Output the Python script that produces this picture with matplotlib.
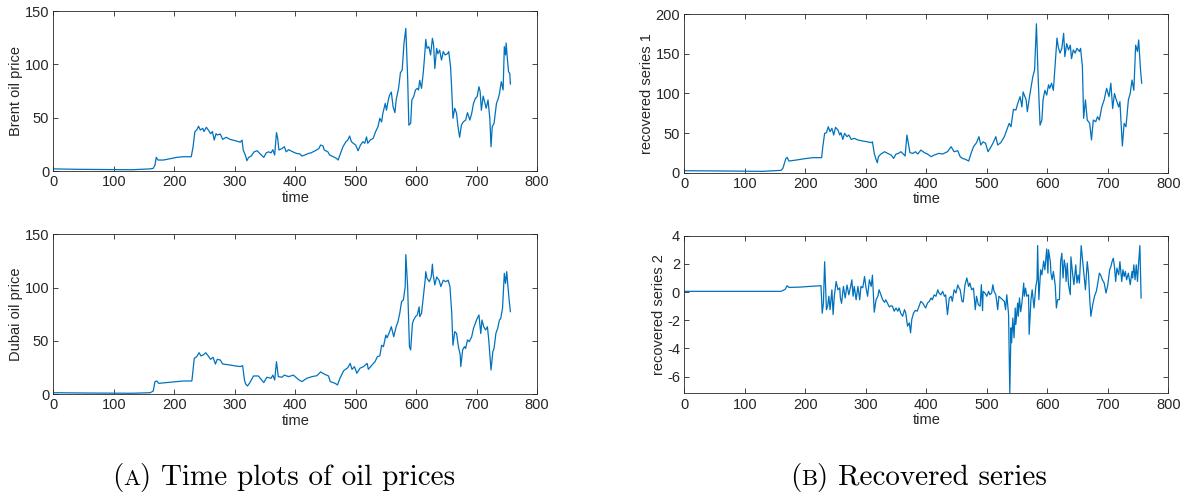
import matplotlib.pyplot as plt

# Brent oil price
brent_t = [0, 40, 80, 130, 160, 165, 168, 170, 173, 182, 193, 204, 215, 228, 231, 234, 237, 240, 243, 247,
           249, 253, 257, 260, 263, 266, 269, 271, 276, 280, 286, 292, 301, 309, 312, 314, 318, 320, 323, 327,
           332, 337, 342, 348, 352, 356, 360, 363, 366, 369, 371, 373, 378, 382, 385, 389, 396, 402, 408, 411,
           416, 422, 426, 433, 439, 442, 446, 448, 454, 457, 463, 468, 471, 475, 479, 484, 487, 490, 493, 496,
           500, 504, 508, 512, 515, 518, 520, 524, 529, 533, 537, 540, 543, 545, 549, 551, 554, 556, 559, 562,
           565, 567, 571, 574, 577, 580, 583, 586, 588, 591, 593, 596, 599, 602, 604, 606, 609, 612, 614, 616,
           618, 621, 624, 627, 629, 631, 634, 636, 639, 642, 645, 648, 652, 654, 657, 659, 661, 664, 667, 669,
           672, 675, 678, 682, 685, 689, 692, 695, 698, 701, 704, 706, 708, 711, 714, 716, 719, 722, 724, 726,
           729, 733, 736, 738, 741, 744, 746, 748, 749, 751, 753, 755, 756]
brent_v = [2.0, 1.6, 1.4, 1.2, 2.0, 2.5, 5.6, 12.8, 10.3, 10.3, 11.6, 12.8, 13.4, 13.4, 22.8, 36.9, 38.4, 42, 38.4, 40,
           37, 41, 37.8, 35, 37, 29, 35, 33.8, 34.7, 29.7, 31.6, 29.7, 28.4, 27, 29, 19.7, 14, 9.7, 12.8, 14,
           18, 19, 16, 12.8, 17, 18, 17, 20, 15, 36, 30.6, 19.7, 21, 22.8, 18, 20, 18, 16.5, 16, 14,
           15, 16.5, 17, 19, 21, 24.4, 23.4, 19.7, 18, 15, 13.4, 11.9, 10.3, 16.5, 22.8, 27.5, 29, 32.8, 27.5, 26,
           24.4, 19, 24.4, 27.5, 26, 32, 26, 29, 30.6, 36.9, 41.6, 49.4, 46, 54, 63.4, 57, 66.6, 71, 74, 60,
           54.7, 66.6, 77.5, 92, 94.7, 119.7, 133.7, 88, 43, 44.7, 66.6, 69.7, 76, 77.5, 76, 85, 77.5, 93, 107, 123.4,
           115, 116.6, 108.8, 124.4, 118, 96, 115, 110, 113.4, 104, 112, 108.8, 110, 112, 97.8, 76, 49.4, 58.8, 54, 43,
           31.6, 43, 46, 47.8, 54.7, 47.8, 54, 63.4, 68, 69.7, 79, 74.4, 57, 70.3, 63.4, 58.8, 66.6, 49.4, 22.8, 41.6,
           44.7, 63.4, 68, 72.8, 83.8, 76, 116.6, 108.8, 120, 105.6, 93, 91.6, 81.6]

# Dubai oil price
dubai_t = [0, 60, 130, 160, 165, 168, 171, 174, 193, 215, 229, 233, 237, 241, 244, 248, 252, 257, 260, 264,
           268, 271, 276, 280, 292, 301, 309, 313, 316, 318, 321, 325, 331, 339, 348, 353, 360, 363, 366, 369,
           372, 378, 382, 389, 397, 405, 411, 419, 428, 436, 442, 448, 455, 458, 466, 470, 474, 480, 487, 491,
           494, 498, 502, 507, 513, 519, 521, 527, 532, 536, 540, 543, 546, 550, 552, 555, 559, 563, 567, 570,
           573, 576, 579, 582, 583, 586, 589, 591, 594, 596, 599, 602, 605, 606, 609, 612, 615, 616, 618, 622,
           625, 627, 628, 631, 634, 638, 641, 645, 649, 653, 656, 659, 661, 664, 667, 670, 673, 674, 677, 680,
           682, 685, 688, 692, 695, 698, 701, 704, 707, 709, 712, 715, 718, 720, 724, 727, 729, 732, 735, 738,
           740, 743, 746, 748, 750, 752, 754, 756]
dubai_v = [1.5, 1.2, 1.0, 1.5, 3, 11.9, 12.5, 10.3, 11.3, 12.5, 12.5, 33.8, 35.3, 39, 36, 37, 39, 35.3, 32.8, 34.7,
           28.4, 32.8, 32.2, 28.4, 27.5, 26.6, 26, 26.9, 13.4, 9.7, 7.8, 11, 17.2, 17.2, 11, 16, 15, 18, 13.4, 30.6,
           16.6, 16, 18, 16.6, 18, 14, 11.9, 15, 16.6, 17.5, 21, 19, 17.2, 11.9, 10.3, 8.8, 15, 22, 25, 29,
           23.4, 25.9, 19.7, 24.4, 26, 29, 23.4, 27.5, 30.6, 35.3, 36, 46, 44.7, 55.6, 53, 57, 63.4, 54, 63.4, 68,
           76, 87, 88.4, 101, 131, 101, 44.7, 41.6, 66.6, 69.7, 72.8, 74.4, 82, 72.8, 76, 91.6, 107, 115, 108.8, 105.6,
           110, 122, 113.4, 102.5, 110, 107, 101, 107, 105.6, 107, 101, 76, 46, 58.8, 57, 44.7, 36.9, 26, 41.6, 44.7,
           43, 51, 49.4, 54, 61.9, 66.6, 71, 74.4, 57, 69.7, 63.4, 60.3, 63.4, 52.5, 22.8, 40, 43, 57, 61.9, 69.7,
           71, 80.6, 113.4, 104, 115, 101, 88.4, 77.5]

# recovered series 1
rec1_t = [0, 60, 130, 160, 163, 168, 170, 173, 185, 199, 213, 227, 229, 232, 235, 238, 241, 244, 247, 250,
          254, 257, 259, 262, 265, 269, 272, 276, 281, 287, 295, 303, 309, 311, 314, 317, 319, 321, 325, 331,
          336, 342, 346, 350, 354, 358, 362, 365, 368, 370, 373, 378, 382, 386, 391, 397, 402, 408, 413, 421,
          427, 435, 441, 446, 452, 456, 460, 465, 470, 474, 478, 483, 487, 490, 494, 498, 502, 507, 510, 515,
          518, 523, 529, 532, 537, 540, 544, 548, 551, 555, 558, 560, 565, 567, 571, 576, 579, 582, 585, 588,
          591, 593, 596, 599, 602, 604, 607, 610, 613, 616, 618, 621, 624, 627, 629, 632, 635, 638, 640, 643,
          646, 649, 653, 655, 658, 660, 663, 666, 670, 673, 676, 680, 683, 686, 690, 694, 698, 702, 705, 708,
          711, 714, 718, 720, 724, 727, 730, 734, 737, 740, 743, 746, 749, 751, 754, 756]
rec1_v = [2.5, 2.2, 1.7, 3.0, 5.5, 18, 19.4, 14.7, 16, 17.7, 19, 19, 32.8, 49.7, 50.5, 58, 51.8, 56, 47.6, 57.3,
          54, 47.6, 50.5, 42, 49.7, 45.5, 47.6, 42, 43.4, 41.3, 40, 39, 37.9, 39, 24.4, 16.8, 12.6, 20.2, 23.6, 26.5,
          24.4, 22.3, 18, 23.6, 24.4, 26.5, 23.6, 21, 47.6, 39, 25.3, 24.4, 26.5, 23.6, 28.6, 25.3, 23.6, 20.2, 22.3, 24.4,
          23.6, 26.5, 32.8, 26.5, 27.8, 20.2, 18, 16.8, 14.7, 24.4, 32.8, 37.9, 45.5, 35, 39, 37, 26.5, 32.8, 37, 45.5,
          35, 37.9, 45.5, 51.8, 62.3, 58, 80, 79, 87, 96, 83, 102, 92, 77, 98, 121, 130, 188, 117, 60,
          66.5, 92, 104, 98, 111, 106.5, 113, 104, 138, 170, 159, 151, 157, 176, 146.5, 163, 155, 161, 144, 155,
          151, 157, 153, 157, 134, 68.6, 92, 66.5, 62.3, 41.3, 66.5, 64.4, 70.7, 66.5, 83, 92, 106.5, 96, 113, 81,
          100, 92, 83, 89.7, 33.7, 62.3, 58, 92, 100, 117, 104, 161, 153, 167.6, 130, 113]

# recovered series 2
rec2_t = [0, 160, 167, 170, 173, 191, 207, 226, 228, 230, 232, 235, 237, 239, 241, 244, 246, 248, 251, 254,
          257, 258, 260, 263, 266, 269, 272, 275, 277, 279, 281, 284, 287, 290, 292, 295, 298, 300, 303, 306,
          309, 311, 314, 317, 320, 322, 325, 328, 331, 333, 336, 339, 342, 344, 347, 350, 353, 355, 358, 361,
          364, 366, 369, 372, 374, 376, 379, 382, 385, 388, 391, 394, 397, 399, 402, 405, 408, 410, 413, 416,
          419, 421, 424, 427, 430, 432, 435, 438, 441, 443, 446, 449, 452, 454, 456, 459, 461, 464, 467, 470,
          472, 475, 478, 481, 483, 486, 489, 491, 493, 494, 497, 500, 503, 505, 508, 510, 512, 515, 518, 520,
          523, 526, 529, 531, 533, 536, 538, 540, 541, 543, 545, 547, 548, 551, 552, 554, 556, 558, 561, 562,
          564, 566, 569, 570, 573, 575, 578, 581, 583, 584, 586, 589, 591, 594, 596, 599, 601, 602, 605, 606,
          608, 610, 613, 615, 617, 620, 622, 624, 626, 628, 630, 631, 633, 635, 638, 639, 642, 644, 647, 649,
          651, 653, 656, 659, 661, 663, 666, 668, 670, 672, 675, 678, 681, 683, 686, 688, 691, 694, 697, 700,
          703, 705, 707, 709, 711, 713, 715, 718, 720, 723, 725, 727, 729, 731, 734, 737, 740, 741, 743, 745,
          747, 749, 751, 753, 755]
rec2_v = [0.05, 0.05, 0.2, 0.45, 0.33, 0.35, 0.4, 0.45, -1.5, -0.8, 2.15, -1.25, -1.0, -0.3, -1.25, 0.16, -1.6, -0.3, 0.75, 0.16,
          0.3, -0.42, -0.8, 0.4, -0.42, 0.5, -0.2, 0.4, 0.87, -0.3, 0.4, -0.55, 0.4, -0.55, 0.4, 0.3, 1.1, 0.4, -0.3, 0.87,
          0.4, 1.2, -1.43, -0.55, -0.3, 0.16, -0.2, -0.55, -0.73, -0.55, -0.8, -1.06, -0.97, -1.0, -1.36, -1.13, -1.36, -1.13, -1.53, -1.72,
          -1.25, -1.48, -2.42, -2.19, -2.9, -1.95, -1.48, -1.3, -1.36, -1.0, -0.66, -0.78, -1.0, -1.13, -0.78, -0.66, -0.42, -0.55, -0.2, -0.3,
          0.16, -0.07, -0.2, 0.05, -0.3, -0.2, -1.6, -0.42, -0.3, -0.66, 0.16, -0.07, 0.5, 0.3, 0.16, -0.66, -0.7, 0.52, 1.0, 0.4,
          0.64, 0.16, 0.28, -1.25, -0.3, -0.9, -1.0, 0.52, -1.32, 0.05, -0.07, -0.3, 0.05, -0.19, -0.07, 0.52, 0.05, -0.19, -1.25, -0.3,
          -0.42, -0.54, -0.66, -1.25, -0.19, -1.6, -7.2, -2.54, -3.6, -1.84, -3.25, -1.13, -2.3, -0.78, -1.72, -0.42, -1.4, -0.78, 0.64, -0.3,
          0.28, -0.3, -0.19, -3.0, -0.54, 0.16, -1.13, 0.4, 0.87, 3.3, -0.54, 1.58, 1.22, 2.2, 1.58, 3.06, 1.34, 3.0, 2.16, 1.34,
          0.87, 1.46, 0.52, -1.13, -0.54, -0.54, 2.16, 2.75, 1.0, 2.28, 1.7, 0.75, 2.05, 0.52, -0.19, 2.5, 1.22, 0.52, 1.93, 0.64,
          1.22, 0.64, 3.3, 1.93, 1.1, 0.16, 2.16, 1.34, -0.42, -1.72, -0.9, -0.3, 0.05, 0.52, 1.34, 1.22, 0.87, 0.64, -0.07, 0.52,
          1.58, 1.8, 2.16, 2.4, 1.8, 0.75, 1.7, 1.22, 2.16, 0.75, 1.58, 1.1, 1.46, 0.87, 1.34, 0.52, 1.46, 1.0, 1.93, 0.87,
          1.93, 0.75, 2.16, 3.3, -0.42]

plt.rcParams['font.family'] = ['Liberation Sans', 'DejaVu Sans']
plt.rcParams['axes.unicode_minus'] = False
line_col = '#0072BD'
ink = '#262626'

fig = plt.figure(figsize=(11.83, 4.96), dpi=100)

# [left, bottom, width, height] in figure fractions
panels = [
    (fig.add_axes([0.0452, 0.6552, 0.4087, 0.3226]), brent_t, brent_v, 'Brent oil price', (0, 150), [0, 50, 100, 150]),
    (fig.add_axes([0.0452, 0.2050, 0.4087, 0.3226]), dubai_t, dubai_v, 'Dubai oil price', (0, 150), [0, 50, 100, 150]),
    (fig.add_axes([0.5784, 0.6518, 0.4092, 0.3194]), rec1_t, rec1_v, 'recovered series 1', (0, 200), [0, 50, 100, 150, 200]),
    (fig.add_axes([0.5784, 0.2067, 0.4092, 0.3181]), rec2_t, rec2_v, 'recovered series 2', (-7.2, 4), [-6, -4, -2, 0, 2, 4]),
]

for ax, t, v, lab, ylim, yt in panels:
    ax.plot(t, v, color=line_col, lw=0.9)
    ax.set_xlim(0, 800)
    ax.set_ylim(*ylim)
    ax.set_xticks(range(0, 801, 100))
    ax.set_yticks(yt)
    ax.set_xlabel('time', fontsize=10.5, color=ink, labelpad=1)
    ax.set_ylabel(lab, fontsize=10.5, color=ink, labelpad=1)
    ax.tick_params(direction='in', top=True, right=True, length=3.5, width=0.6,
                   labelsize=10.5, colors=ink, pad=3)
    for s in ax.spines.values():
        s.set_color(ink)
        s.set_linewidth(0.6)

# captions: "(A) ..." with the letter in small caps
renderer = fig.canvas.get_renderer()


def caption(x, y, letter, rest, size=21):
    kw = dict(fontfamily='cmr10', color='black', va='baseline')
    for s, fs in [('(', size), (letter, size * 0.78), (') ' + rest, size)]:
        txt = fig.text(x, y, s, fontsize=fs, **kw)
        x += txt.get_window_extent(renderer).width / fig.bbox.width


caption(0.0947, 0.022, 'A', 'Time plots of oil prices')
caption(0.6678, 0.022, 'B', 'Recovered series')

fig.savefig('out.png', dpi=100)
